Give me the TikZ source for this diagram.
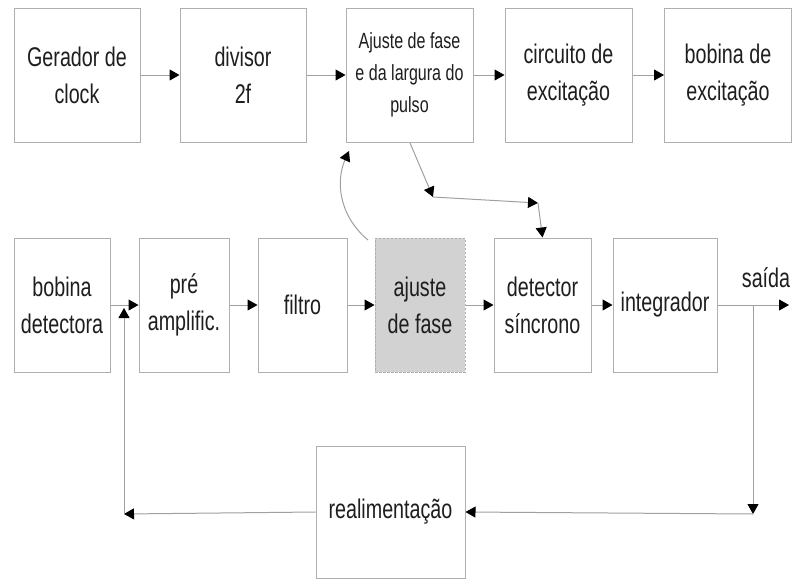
\documentclass[tikz,border=0pt]{standalone}
\usepackage{fontspec}
\setmainfont{Liberation Sans}[FakeStretch=0.73]
\usetikzlibrary{arrows.meta}
\definecolor{linegray}{RGB}{160,160,160}
\definecolor{boxgray}{RGB}{175,175,175}
\definecolor{fillgray}{RGB}{210,210,210}
\definecolor{txt}{RGB}{30,30,30}
\tikzset{
  blk/.style={draw=boxgray, line width=1pt, minimum height=134pt, inner sep=0pt,
    align=center, text=txt, font={\fontsize{27}{37}\selectfont}},
  conn/.style={draw=linegray, line width=1pt,
    -{Triangle[length=10pt,width=11pt,color=black]}},
  plain/.style={draw=linegray, line width=1pt}
}
\begin{document}
\begin{tikzpicture}[x=1pt,y=-1pt]
\useasboundingbox[fill=white] (0,0) rectangle (793,579);
% top row
\node[blk, minimum width=126pt] (gen) at (77,75) {Gerador de\\clock};
\node[blk, minimum width=126pt] (div) at (243,75) {divisor\\2f};
\node[blk, minimum width=127pt, font={\fontsize{22}{32}\selectfont}] (ajs) at (409.5,75) {Ajuste de fase\\e da largura do\\pulso};
\node[blk, minimum width=127pt] (circ) at (568.5,75) {circuito de\\excitação};
\node[blk, minimum width=127pt] (bob) at (728,75) {bobina de\\excitação};
% bottom row
\node[blk, minimum width=96pt] (bdet) at (62,305) {bobina\\detectora};
\node[blk, minimum width=90pt] (pre) at (184,305) {pré\\amplific.};
\node[blk, minimum width=89pt] (fil) at (302.5,305) {filtro};
\node[blk, minimum width=90pt, fill=fillgray, dash pattern=on 2.5pt off 1.5pt] (ajf) at (420,305) {ajuste\\de fase};
\node[blk, minimum width=97pt] (det) at (542.5,305) {detector\\síncrono};
\node[blk, minimum width=104pt] (integ) at (665,305) {integrador};
\node[blk, minimum width=149pt, minimum height=132pt] (real) at (390.5,512) {realimentação};
\node[text=txt, font={\fontsize{27}{30}\selectfont}, inner sep=0pt] (said) at (766,278) {saída};
% coordinates
\coordinate (out) at (789,305);
\coordinate (tap) at (753,305);
\coordinate (tapd) at (753,514);
\coordinate (fbl) at (124,514);
\coordinate (fbu) at (124,308);
\coordinate (cs) at (368,240);
\coordinate (ct) at (349,151);
\coordinate (j0) at (410,143);
\coordinate (j1) at (433,197);
\coordinate (j2) at (538,203);
% top connectors
\draw[conn] (gen) -- (div);
\draw[conn] (div) -- (ajs);
\draw[conn] (ajs) -- (circ);
\draw[conn] (circ) -- (bob);
% bottom connectors
\draw[conn] (bdet) -- (pre);
\draw[conn] (pre) -- (fil);
\draw[conn] (fil) -- (ajf);
\draw[conn] (ajf) -- (det);
\draw[conn] (det) -- (integ);
\draw[conn] (integ.east) -- (out);
% feedback
\draw[conn] (tap) -- (tapd);
\draw[conn] (tapd) -- (real.east);
\draw[conn] (real.west) -- (fbl);
\draw[conn] (fbl) -- (fbu);
% curved and reference connectors
\draw[conn] (cs) .. controls (338,215) and (336,180) .. (ct);
\draw[conn] (j0) -- (j1);
\draw[conn] (j1) -- (j2);
\draw[conn] (j2) -- (det.north);
\end{tikzpicture}
\end{document}
